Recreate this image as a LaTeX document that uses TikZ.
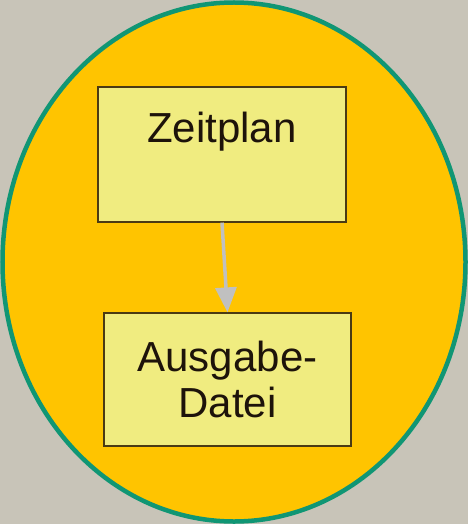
\documentclass[tikz,border=0pt]{standalone}
\usepackage{fontspec}
\setmainfont{Liberation Sans}
\usetikzlibrary{arrows.meta}

\definecolor{bgrey}{RGB}{200,196,184}
\definecolor{oval}{RGB}{255,196,0}
\definecolor{ovalline}{RGB}{16,150,116}
\definecolor{boxfill}{RGB}{240,236,128}
\definecolor{boxline}{RGB}{74,58,20}
\definecolor{arrowgrey}{RGB}{192,192,192}

\begin{document}
\begin{tikzpicture}[x=1pt,y=-1pt]
    \tikzstyle{block}=[draw=boxline,line width=1.2pt,fill=boxfill,rectangle,minimum width=248pt,font=\fontsize{42}{46}\selectfont,text=black!85!brown]
    \tikzstyle{flow}=[draw=arrowgrey,line width=3.5pt,-{Triangle[length=25pt,width=21pt]}]
    \fill[bgrey] (0,0) rectangle (468,524);
    \useasboundingbox (0,0) rectangle (468,524);
    \draw[ovalline,fill=oval,line width=4.5pt] (234,262) ellipse [x radius=231.5,y radius=259.5];
    \node[block,text height=30pt,text depth=55pt,inner ysep=25pt] (zeit) at (222,154.5) {Zeitplan};
    \node[block,align=center,minimum width=247pt,minimum height=133pt] (datei) at (227.5,379.5) {Ausgabe-\\Datei};
    \draw[flow] (zeit.south) -- (datei.north);
\end{tikzpicture}
\end{document}
